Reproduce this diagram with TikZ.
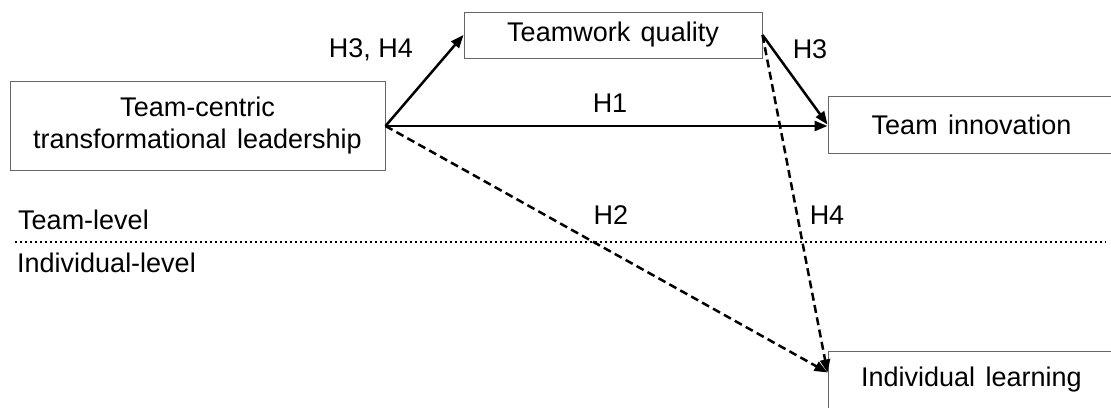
\documentclass[tikz,border=0pt]{standalone}
\usepackage{fontspec}
\setmainfont{Liberation Sans}[WordSpace=1.4]
\newfontfamily\lblfont{Liberation Sans}
\usetikzlibrary{arrows.meta}
\begin{document}
\begin{tikzpicture}[x=1pt,y=-1pt,
  txt/.style={font=\fontsize{27}{32}\selectfont},
  box/.style={txt, draw=black!60, line width=1pt, inner sep=0pt},
  lbl/.style={font=\lblfont\fontsize{27}{32}\selectfont, inner sep=0pt},
  arr/.style={line width=2.5pt, -{Triangle[length=13pt,width=10pt]}},
  darr/.style={arr, dash pattern=on 8pt off 4.5pt}]
\useasboundingbox (0,0) rectangle (1111,407);
\node[box, minimum width=375pt, minimum height=89pt, align=center] (tl) at (197.5,126) {Team-centric\\transformational leadership};
\node[box, minimum width=298pt, minimum height=46pt] (tw) at (613,35) {Teamwork quality};
\node[box, minimum width=287pt, minimum height=57pt] (ti) at (971.5,124.5) {Team innovation};
\node[box, minimum width=287pt, minimum height=57pt] (il) at (971.5,379.5) {Individual learning};
\coordinate (src) at (tl.east);
\coordinate (ilin) at ([yshift=7pt]il.west);
\draw[arr] (src) -- (tw.west);
\draw[arr] (src) -- (src -| ti.west);
\draw[arr] (tw.east) -- (ti.west);
\draw[darr] (src) -- (ilin);
\draw[darr] (tw.east) -- (ilin);
\draw[line width=2.4pt, dash pattern=on 2.4pt off 2.6pt] (15,242) -- (1106,242);
\node[lbl] (h34) at (371,50) {H3, H4};
\node[lbl] (h1) at (610,103) {H1};
\node[lbl] (h3) at (810,49) {H3};
\node[lbl] (h2) at (611,215) {H2};
\node[lbl] (h4) at (827,215) {H4};
\node[lbl, anchor=base west] (tlev) at (18,229) {Team-level};
\node[lbl, anchor=base west] (ilev) at (17,272) {Individual-level};
\end{tikzpicture}
\end{document}
